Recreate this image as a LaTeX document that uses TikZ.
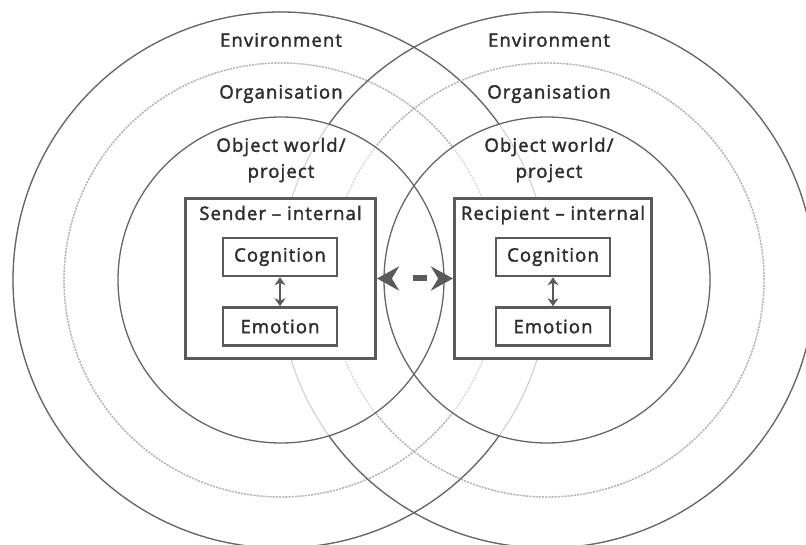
\documentclass[tikz,border=0pt]{standalone}
\usepackage{fontspec}
\setmainfont{Open Sans}[LetterSpace=6,FakeBold=2]
\usetikzlibrary{arrows.meta}

\definecolor{ringgray}{HTML}{666666}
\definecolor{orggray}{HTML}{B4B4B4}
\definecolor{faintgray}{HTML}{D0D0D0}
\definecolor{boxgray}{HTML}{5A5A5A}
\definecolor{textgray}{HTML}{2E2E2E}

\begin{document}
\begin{tikzpicture}[x=1pt,y=-1pt,
  ring/.style={draw=ringgray,line width=1.3pt},
  orgring/.style={draw=orggray,line width=1.4pt,dash pattern=on 2pt off 1.2pt},
  faint/.style={draw=faintgray,line width=1.1pt},
  outerbox/.style={draw=boxgray,line width=3pt,fill=white,minimum height=160pt,inner sep=0pt},
  innerbox/.style={draw=boxgray,line width=2.6pt,fill=white,text=textgray,
    minimum width=114pt,minimum height=38pt,inner sep=0pt,font=\fontsize{18.5}{22}\selectfont},
  lbl/.style={text=textgray,align=center,font=\fontsize{18.5}{26}\selectfont},
  smallarrow/.style={draw=boxgray,line width=2.6pt,{Stealth[length=8pt,width=11pt]}-{Stealth[length=8pt,width=11pt]}},
  bigarrow/.style={draw=boxgray,line width=6pt,dash pattern=on 0pt off 22pt on 14pt off 40pt,
    {Stealth[length=22pt,width=24pt]}-{Stealth[length=22pt,width=24pt]}}
]
  \useasboundingbox (0,0) rectangle (806,545);

  % faint copies, seen inside the other inner circle
  \foreach \cx in {281,547} {
    \draw[faint] (\cx,280) circle (268pt);
    \draw[faint,dash pattern=on 2pt off 1.2pt] (\cx,280) circle (217pt);
  }

  % full strength outside the other inner circle
  \begin{scope}[even odd rule]
    \clip (0,0) rectangle (806,545) (547,280) circle (163pt);
    \draw[ring] (281,280) circle (268pt);
    \draw[orgring] (281,280) circle (217pt);
  \end{scope}
  \begin{scope}[even odd rule]
    \clip (0,0) rectangle (806,545) (281,280) circle (163pt);
    \draw[ring] (547,280) circle (268pt);
    \draw[orgring] (547,280) circle (217pt);
  \end{scope}

  \foreach \cx in {281,547}
    \draw[ring] (\cx,280) circle (163pt);

  % circle labels
  \node[lbl] (envL) at (281,40) {Environment};
  \node[lbl] (orgL) at (281,94) {Organisation};
  \node[lbl] (objL) at (281,160) {Object world/\\project};
  \node[lbl] (envR) at (549,40) {Environment};
  \node[lbl] (orgR) at (549,94) {Organisation};
  \node[lbl] (objR) at (549,160) {Object world/\\project};

  % sender
  \node[outerbox,minimum width=190pt] (sender) at (280.5,278.5) {};
  \node[lbl] (senderTitle) at (280.5,213) {Sender -- internal};
  \node[innerbox] (cogL) at (280,257) {Cognition};
  \node[innerbox] (emoL) at (280,326.5) {Emotion};
  \draw[smallarrow] (cogL) -- (emoL);

  % recipient
  \node[outerbox,minimum width=197pt] (recipient) at (553,278.5) {};
  \node[lbl] (recipientTitle) at (553,215) {Recipient -- internal};
  \node[innerbox] (cogR) at (553,257) {Cognition};
  \node[innerbox] (emoR) at (553,326.5) {Emotion};
  \draw[smallarrow] (cogR) -- (emoR);

  \draw[bigarrow] (sender) -- (recipient);
\end{tikzpicture}
\end{document}
